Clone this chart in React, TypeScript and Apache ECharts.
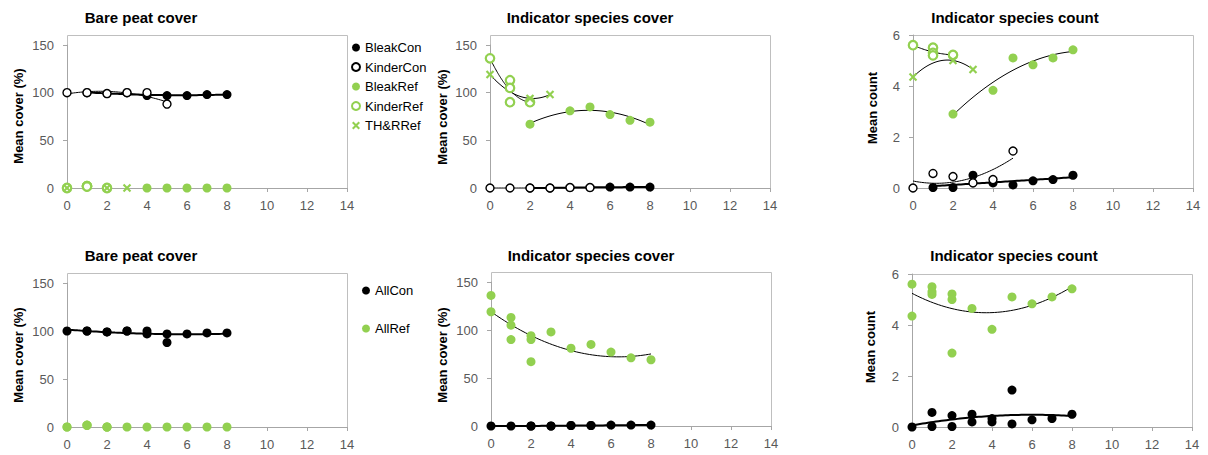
import React, { useEffect, useRef } from "react";
import * as echarts from "echarts";

// ---------- data ----------
const xTicksMax = 14;
const panelTitles = ["Bare peat cover", "Indicator species cover", "Indicator species count"];
const yNames = ["Mean cover (%)", "Mean cover (%)", "Mean count"];
const topLegend = ["BleakCon", "KinderCon", "BleakRef", "KinderRef", "TH&RRef"];
const bottomLegend = ["AllCon", "AllRef"];

const bleakConX = [1, 2, 3, 4, 5, 6, 7, 8];
const bleakConBare = [100, 99, 100, 97, 97, 97, 98, 98];
const bleakConCover = [null, 0, 0, 0.5, 0.5, 1, 1, 1];
const bleakConCount = [0.02, 0.02, 0.5, 0.2, 0.12, 0.28, 0.33, 0.5];

const kinderConX = [0, 1, 2, 3, 4, 5];
const kinderConBare = [100, 100, 99, 100, 100, 88];
const kinderConCover = [0, 0, 0, 0, 0.5, 0.5];
const kinderConCount = [0, 0.57, 0.45, 0.2, 0.33, 1.45];

const bleakRefX = [2, 4, 5, 6, 7, 8];
const bleakRefBare = [0, 0, 0, 0, 0, 0];
const bleakRefCover = [67, 81, 85, 77, 71, 69];
const bleakRefCount = [2.9, 3.83, 5.1, 4.83, 5.1, 5.42];

const kinderRefX = [0, 1, 1, 1, 2];
const kinderRefBare = [0, 2, 2, 1.5, 0];
const kinderRefCover = [136, 113, 105, 90, 90];
const kinderRefCount = [5.6, 5.5, 5.3, 5.2, 5.22];

const thrRefX = [0, 2, 3];
const thrRefBare = [0, 0, 0];
const thrRefCover = [119, 94, 98];
const thrRefCount = [4.35, 5.0, 4.65];

// ---------- helpers ----------
const GREEN = "#92D050";
const AXIS = "#a6a6a6";
const FONT = "Liberation Sans, Arial, sans-serif";

function pairs(xs: number[], ys: (number | null)[]) {
  const out: number[][] = [];
  xs.forEach((x, i) => {
    const y = ys[i];
    if (y !== null && y !== undefined) out.push([x, y]);
  });
  return out;
}

function quadFit(pts: number[][]) {
  const s = [0, 0, 0, 0, 0];
  const t = [0, 0, 0];
  pts.forEach(([x, y]) => {
    for (let k = 0; k < 5; k++) s[k] += Math.pow(x, k);
    for (let k = 0; k < 3; k++) t[k] += y * Math.pow(x, k);
  });
  const m = [
    [s[0], s[1], s[2], t[0]],
    [s[1], s[2], s[3], t[1]],
    [s[2], s[3], s[4], t[2]],
  ];
  for (let i = 0; i < 3; i++) {
    let p = i;
    for (let r = i + 1; r < 3; r++) if (Math.abs(m[r][i]) > Math.abs(m[p][i])) p = r;
    [m[i], m[p]] = [m[p], m[i]];
    for (let r = 0; r < 3; r++) {
      if (r === i) continue;
      const f = m[r][i] / m[i][i];
      for (let c = i; c < 4; c++) m[r][c] -= f * m[i][c];
    }
  }
  return [m[0][3] / m[0][0], m[1][3] / m[1][1], m[2][3] / m[2][2]];
}

function trendData(pts: number[][]) {
  const [a, b, c] = quadFit(pts);
  const xs = pts.map((p) => p[0]);
  const lo = Math.min(...xs);
  const hi = Math.max(...xs);
  const out: number[][] = [];
  const n = 60;
  for (let i = 0; i <= n; i++) {
    const x = lo + ((hi - lo) * i) / n;
    out.push([x, a + b * x + c * x * x]);
  }
  return out;
}

const styles: Record<string, any> = {
  filledBlack: { symbol: "circle", symbolSize: 9, itemStyle: { color: "#000", opacity: 1 } },
  openBlack: { symbol: "circle", symbolSize: 8, itemStyle: { color: "#fff", borderColor: "#000", borderWidth: 1.4, opacity: 1 } },
  filledGreen: { symbol: "circle", symbolSize: 9, itemStyle: { color: GREEN, opacity: 1 } },
  openGreen: { symbol: "circle", symbolSize: 8.5, itemStyle: { color: "#fff", borderColor: GREEN, borderWidth: 2.2, opacity: 1 } },
  crossGreen: {
    symbol: "path://M0,1.8 L1.8,0 L5,3.2 L8.2,0 L10,1.8 L6.8,5 L10,8.2 L8.2,10 L5,6.8 L1.8,10 L0,8.2 L3.2,5 Z",
    symbolSize: 8.5,
    itemStyle: { color: GREEN, opacity: 1 },
  },
};

function scatter(name: string, gi: number, pts: number[][], kind: string, z: number) {
  return {
    type: "scatter",
    name,
    xAxisIndex: gi,
    yAxisIndex: gi,
    data: pts,
    ...styles[kind],
    emphasis: { disabled: true },
    z,
  };
}

function trend(gi: number, pts: number[][], width: number) {
  return {
    type: "line",
    name: "trend",
    xAxisIndex: gi,
    yAxisIndex: gi,
    data: trendData(pts),
    showSymbol: false,
    silent: true,
    smooth: false,
    lineStyle: { color: "#000", width },
    z: 1,
  };
}

// grid geometry: [left, top, width, height, boxTop]
const gridBoxes = [
  [67, 45, 280, 143, 35],
  [490, 45, 280, 143, 35],
  [913, 35, 280, 153, 35],
  [67, 283, 280, 144, 273],
  [491, 282, 280, 144, 272],
  [912, 274, 280, 153, 274],
];
const titlePos = [
  [141, 17], [590, 17], [1015, 17],
  [141, 255], [591, 255], [1014, 255],
];
const yNamePos = [
  [18, 116], [442, 117], [872, 108],
  [18, 355], [442, 355], [870, 347],
];

function buildOption() {
  const series: any[] = [];
  const vars = [
    { bc: bleakConBare, kc: kinderConBare, br: bleakRefBare, kr: kinderRefBare, tr: thrRefBare },
    { bc: bleakConCover, kc: kinderConCover, br: bleakRefCover, kr: kinderRefCover, tr: thrRefCover },
    { bc: bleakConCount, kc: kinderConCount, br: bleakRefCount, kr: kinderRefCount, tr: thrRefCount },
  ];
  vars.forEach((v, i) => {
    const bc = pairs(bleakConX, v.bc);
    const kc = pairs(kinderConX, v.kc);
    const br = pairs(bleakRefX, v.br);
    const kr = pairs(kinderRefX, v.kr);
    const tr = pairs(thrRefX, v.tr);
    // top panel i
    series.push(scatter("BleakCon", i, bc, "filledBlack", 3));
    series.push(scatter("KinderCon", i, kc, "openBlack", 4));
    series.push(scatter("BleakRef", i, br, "filledGreen", 5));
    series.push(scatter("KinderRef", i, kr, "openGreen", 6));
    series.push(scatter("TH&RRef", i, tr, "crossGreen", 7));
    series.push(trend(i, bc, 2));
    series.push(trend(i, kc, 1));
    if (i > 0) {
      series.push(trend(i, br, 1));
      series.push(trend(i, kr, 1));
      series.push(trend(i, tr, 1));
    }
    // bottom panel i+3
    const allCon = bc.concat(kc);
    const allRef = br.concat(kr, tr);
    series.push(scatter("AllCon", i + 3, allCon, "filledBlack", 3));
    series.push(scatter("AllRef", i + 3, allRef, "filledGreen", 4));
    series.push(trend(i + 3, allCon, 2));
    if (i > 0) series.push(trend(i + 3, allRef, 1));
  });

  const grid = gridBoxes.map(([l, t, w, h]) => ({ left: l, top: t, width: w, height: h, containLabel: false }));
  const axisLabel = { color: "#595959", fontSize: 13, fontFamily: FONT };
  const xAxis = gridBoxes.map((_, gi) => ({
    type: "value",
    gridIndex: gi,
    min: 0,
    max: xTicksMax,
    interval: 2,
    axisLine: { show: true, onZero: false, lineStyle: { color: AXIS } },
    axisTick: { show: true, length: 4, lineStyle: { color: AXIS } },
    splitLine: { show: false },
    axisLabel: { ...axisLabel, margin: 11 },
  }));
  const yAxis = gridBoxes.map((_, gi) => {
    const isCount = gi % 3 === 2;
    return {
      type: "value",
      gridIndex: gi,
      min: 0,
      max: isCount ? 6 : 150,
      interval: isCount ? 2 : 50,
      axisLine: { show: true, onZero: false, lineStyle: { color: AXIS } },
      axisTick: { show: true, length: 4, lineStyle: { color: AXIS } },
      splitLine: { show: false },
      axisLabel: { ...axisLabel, margin: 13 },
    };
  });

  const graphic: any[] = [];
  gridBoxes.forEach(([l, t, w, h, bt], gi) => {
    graphic.push({
      type: "rect",
      silent: true,
      z: -1,
      shape: { x: l + 0.5, y: bt + 0.5, width: w, height: t + h - bt },
      style: { fill: "none", stroke: "#bfbfbf", lineWidth: 1 },
    });
    graphic.push({
      type: "text",
      silent: true,
      x: titlePos[gi][0],
      y: titlePos[gi][1],
      style: {
        text: panelTitles[gi % 3],
        font: `bold 15px ${FONT}`,
        fill: "#000",
        textAlign: "center",
        textVerticalAlign: "middle",
      },
    });
    graphic.push({
      type: "text",
      silent: true,
      x: yNamePos[gi][0],
      y: yNamePos[gi][1],
      rotation: Math.PI / 2,
      style: {
        text: yNames[gi % 3],
        font: `bold 13px ${FONT}`,
        fill: "#000",
        textAlign: "center",
        textVerticalAlign: "middle",
      },
    });
  });

  const legendText = { fontSize: 13, fontFamily: FONT, color: "#000" };
  return {
    animation: false,
    backgroundColor: "#fff",
    grid,
    xAxis,
    yAxis,
    legend: [
      {
        data: topLegend,
        orient: "vertical",
        left: 351,
        top: 41,
        itemWidth: 8,
        itemHeight: 8,
        itemGap: 6.5,
        padding: 0,
        selectedMode: false,
        textStyle: legendText,
      },
      {
        data: bottomLegend,
        orient: "vertical",
        left: 362,
        top: 284,
        itemWidth: 8,
        itemHeight: 8,
        itemGap: 25,
        padding: 0,
        selectedMode: false,
        textStyle: legendText,
      },
    ],
    graphic,
    series,
  };
}

export default function App() {
  const ref = useRef<HTMLDivElement>(null);
  useEffect(() => {
    document.body.style.margin = "0";
    if (!ref.current) return;
    const chart = echarts.init(ref.current, null, { renderer: "svg" });
    chart.setOption(buildOption() as any);
    return () => chart.dispose();
  }, []);
  return <div ref={ref} style={{ width: 1208, height: 455, background: "#fff" }} />;
}
